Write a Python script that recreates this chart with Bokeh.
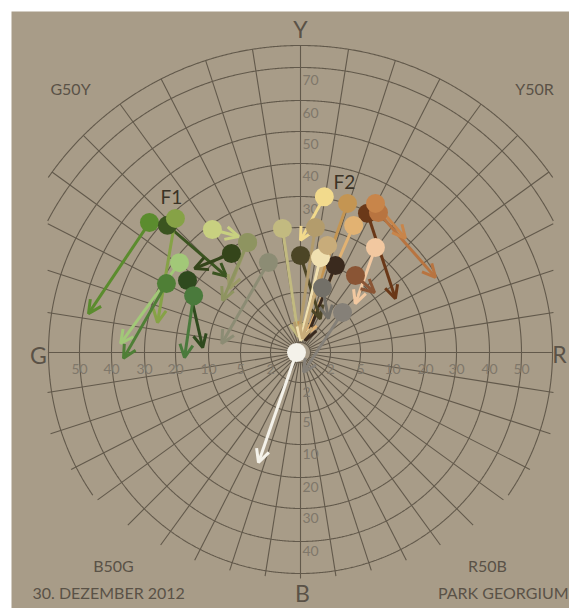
import numpy as np
from bokeh.plotting import figure
from bokeh.models import Range1d, Arrow, OpenHead
from bokeh.core.properties import value
from bokeh.embed import file_html
from bokeh.resources import INLINE

# ---------------- data (hue angle in degrees, counter-clockwise from R; chroma) -------------
hue_start = [139.3, 136.3, 133.0, 124.9, 125.6, 115.7, 115.7, 109.6, 143.4, 152.8, 147.5, 152.0,
             98.3, 81.3, 72.5, 64.3, 60.9, 63.3, 67.3, 54.5, 54.5, 68.1, 90.0, 71.3, 43.6,
             83.2, 78.1, 75.8, 180.0]
chroma_start = [43.2, 38.5, 38.3, 18.7, 28.5, 19.1, 19.1, 11.1, 28.3, 28.3, 22.9, 18.8,
                20.1, 30.5, 30.1, 29.5, 31.3, 33.3, 24.1, 21.3, 10.8, 10.5, 11.5, 6.3, 4.8,
                20.3, 11.5, 15.6, 0.4]
hue_end = [169.6, 134.2, 168.2, 141.6, 118.1, 138.0, 146.3, 173.5, 177.1, 181.9, 177.1, 182.5,
           97.6, 90.0, 90.0, 29.6, 29.1, 47.4, 73.6, 41.7, 39.0, 67.4, 59.5, 50.5, -81.5,
           96.7, 90.0, 81.9, 249.1]
chroma_end = [48.3, 14.3, 26.8, 23.3, 22.1, 11.1, 10.5, 8.0, 37.3, 36.4, 11.8, 17.3,
              1.3, 16.1, 1.35, 15.2, 29.5, 29.7, 1.4, 7.1, 11.0, 1.15, 2.9, 3.4, 1.5,
              1.35, 1.1, 1.2, 17.8]
colors = ["#5b8c2e", "#3b5420", "#86a246", "#34451a", "#c8d080", "#9a9a66", "#8e9460",
          "#8c8c74", "#a2c878", "#4f7f36", "#2f4a1e", "#4a7a3c",
          "#c2ba80", "#f2da8c", "#c49552", "#6a3818", "#b87440", "#c8854a", "#e2b272",
          "#f2c8a0", "#8a5535", "#3a2a1e", "#4c4526", "#737068", "#858078",
          "#b39c6c", "#f0e0b0", "#c8ac7a", "#f4f2ea"]

ring_values = [1, 2, 5, 10, 20, 30, 40, 50, 60, 70, 80]
h_tick_values = [2, 5, 10, 20, 30, 40, 50]
down_tick_values = [2, 5, 10, 20, 30, 40]
up_tick_values = [30, 40, 50, 60, 70]
hue_names = ["Y", "G", "R", "B"]
mid_names = ["G50Y", "Y50R", "B50G", "R50B"]

# radial scale of the diagram (chroma -> pixels)
scale_v = [0, 1, 2, 5, 10, 20, 30, 40, 50, 60, 70, 80]
scale_px = [0, 10, 30, 60, 92, 125, 156, 189, 221, 252, 285, 307]


def radius(v):
    return np.interp(np.asarray(v, dtype=float), scale_v, scale_px)


def to_xy(h, c):
    a = np.radians(np.asarray(h, dtype=float))
    r = radius(c)
    return r * np.cos(a), r * np.sin(a)


XCLIP, RTOP, EA, EB = 253.0, 307.5, 268.0, 226.0


def inside(x, y):
    up = (np.hypot(x, y) <= RTOP) & (np.abs(x) <= XCLIP)
    lo = ((x / EA) ** 2 + (y / EB) ** 2 <= 1.0005) & (np.abs(x) <= XCLIP)
    return np.where(y >= 0, up, lo)


BG = "#a89c88"
GRID = "#62594b"
TICK = "#7f776a"
LAB = "#5a5247"
FONT = value("Lato")

p = figure(width=569, height=608, output_backend="svg", toolbar_location=None,
           x_range=Range1d(-289, 269), y_range=Range1d(-256, 341),
           x_axis_location=None, y_axis_location=None,
           min_border_left=11, min_border_top=11, min_border_right=0, min_border_bottom=0)
p.background_fill_color = BG
p.border_fill_color = "white"
p.outline_line_color = None
p.grid.visible = False

# rings
ang = np.radians(np.arange(0, 360.25, 0.25))
rx, ry = [], []
for v in ring_values:
    R = radius(v)
    x = R * np.cos(ang)
    y = R * np.sin(ang)
    m = inside(x, y)
    x = np.where(m, x, np.nan)
    y = np.where(m, y, np.nan)
    rx.extend(list(x) + [np.nan])
    ry.extend(list(y) + [np.nan])
p.line(rx, ry, line_color=GRID, line_width=1.1, level="image")

# spokes every 9 degrees
sx, sy = [], []
for k in range(40):
    a = np.radians(k * 9)
    rr = np.linspace(radius(1), 320, 700)
    x = rr * np.cos(a)
    y = rr * np.sin(a)
    m = inside(x, y)
    rmax = rr[m].max()
    sx.append([radius(1) * np.cos(a), rmax * np.cos(a)])
    sy.append([radius(1) * np.sin(a), rmax * np.sin(a)])
p.multi_line(sx, sy, line_color=GRID, line_width=1.1, level="image")

# tick labels
hx = [radius(v) for v in h_tick_values] + [-radius(v) for v in h_tick_values]
p.text(x=hx, y=[-16] * len(hx), text=[str(v) for v in h_tick_values] * 2,
       text_font=FONT, text_font_size="14px", text_color=TICK,
       text_align="center", text_baseline="middle", level="image")
p.text(x=[2] * len(down_tick_values), y=[-radius(v) - 9 for v in down_tick_values],
       text=[str(v) for v in down_tick_values], text_font=FONT,
       text_font_size="14px", text_color=TICK, text_align="left",
       text_baseline="middle", level="image")
p.text(x=[2] * len(up_tick_values), y=[radius(v) - 12 for v in up_tick_values],
       text=[str(v) for v in up_tick_values], text_font=FONT,
       text_font_size="14px", text_color=TICK, text_align="left",
       text_baseline="middle", level="image")

# hue names
p.text(x=[0, -262, 259, 2], y=[324, -2, -1, -240], text=hue_names, text_font=FONT,
       text_font_size="23px", text_color=LAB, text_align="center", text_baseline="middle")
p.text(x=[-230, 234, -187, 187], y=[264, 264, -213, -213], text=mid_names,
       text_font=FONT, text_font_size="16px", text_color=LAB,
       text_align="center", text_baseline="middle")
p.text(x=[-268], y=[-240], text=["30. DEZEMBER 2012"], text_font=FONT,
       text_font_size="16px", text_color=LAB, text_align="left", text_baseline="middle")
p.text(x=[268], y=[-240], text=["PARK GEORGIUM"], text_font=FONT,
       text_font_size="16px", text_color=LAB, text_align="right", text_baseline="middle")

# arrows
xs, ys = to_xy(hue_start, chroma_start)
xe, ye = to_xy(hue_end, chroma_end)
for i in range(len(colors)):
    c = colors[i]
    p.add_layout(Arrow(end=OpenHead(size=13, line_width=3, line_color=c),
                       x_start=float(xs[i]), y_start=float(ys[i]),
                       x_end=float(xe[i]), y_end=float(ye[i]),
                       line_color=c, line_width=3, level="underlay"))
p.scatter(xs, ys, size=19, fill_color=colors, line_color=None)

# series labels
p.text(x=[-129, 44], y=[156, 171], text=["F1", "F2"], text_font=FONT,
       text_font_size="19px", text_color="#3b3326", text_align="center",
       text_baseline="middle")

open("out.html", "w").write(file_html(p, INLINE))
